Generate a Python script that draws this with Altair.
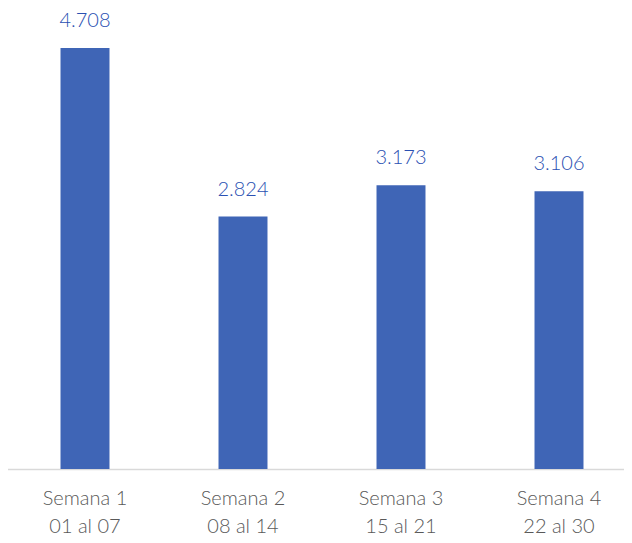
import altair as alt
import pandas as pd

categories = ["Semana 1|01 al 07", "Semana 2|08 al 14", "Semana 3|15 al 21", "Semana 4|22 al 30"]
values = [4708, 2824, 3173, 3106]

df = pd.DataFrame({"cat": categories, "val": values})

base = alt.Chart(df).encode(
    x=alt.X("cat:N", sort=categories,
            scale=alt.Scale(paddingInner=0.69, paddingOuter=0.345),
            axis=alt.Axis(title=None, ticks=False, domainColor="#D9D9D9", domainWidth=1.5,
                          labelAngle=0, labelFont="Lato", labelFontSize=20, labelColor="#595959",
                          labelFontWeight=300,
                          labelPadding=19, labelLineHeight=28,
                          labelExpr="split(datum.label, '|')")),
    y=alt.Y("val:Q", scale=alt.Scale(domain=[0, 5000]), axis=None),
)

bars = base.mark_bar(color="#3F65B6")
text = base.transform_calculate(
    lab="replace(format(datum.val, ','), ',', '.')"
).mark_text(dy=-17, baseline="bottom", font="Lato", fontSize=20, fontWeight=300,
            color="#2A50B2").encode(text="lab:N")

chart = (bars + text).properties(
    width=632, height=447,
    autosize=alt.AutoSizeParams(type="none"),
    padding={"left": -2, "top": 14, "right": -14, "bottom": 66},
).configure_view(stroke=None)

chart.save("out.html", embed_options={"renderer": "svg", "actions": False})
